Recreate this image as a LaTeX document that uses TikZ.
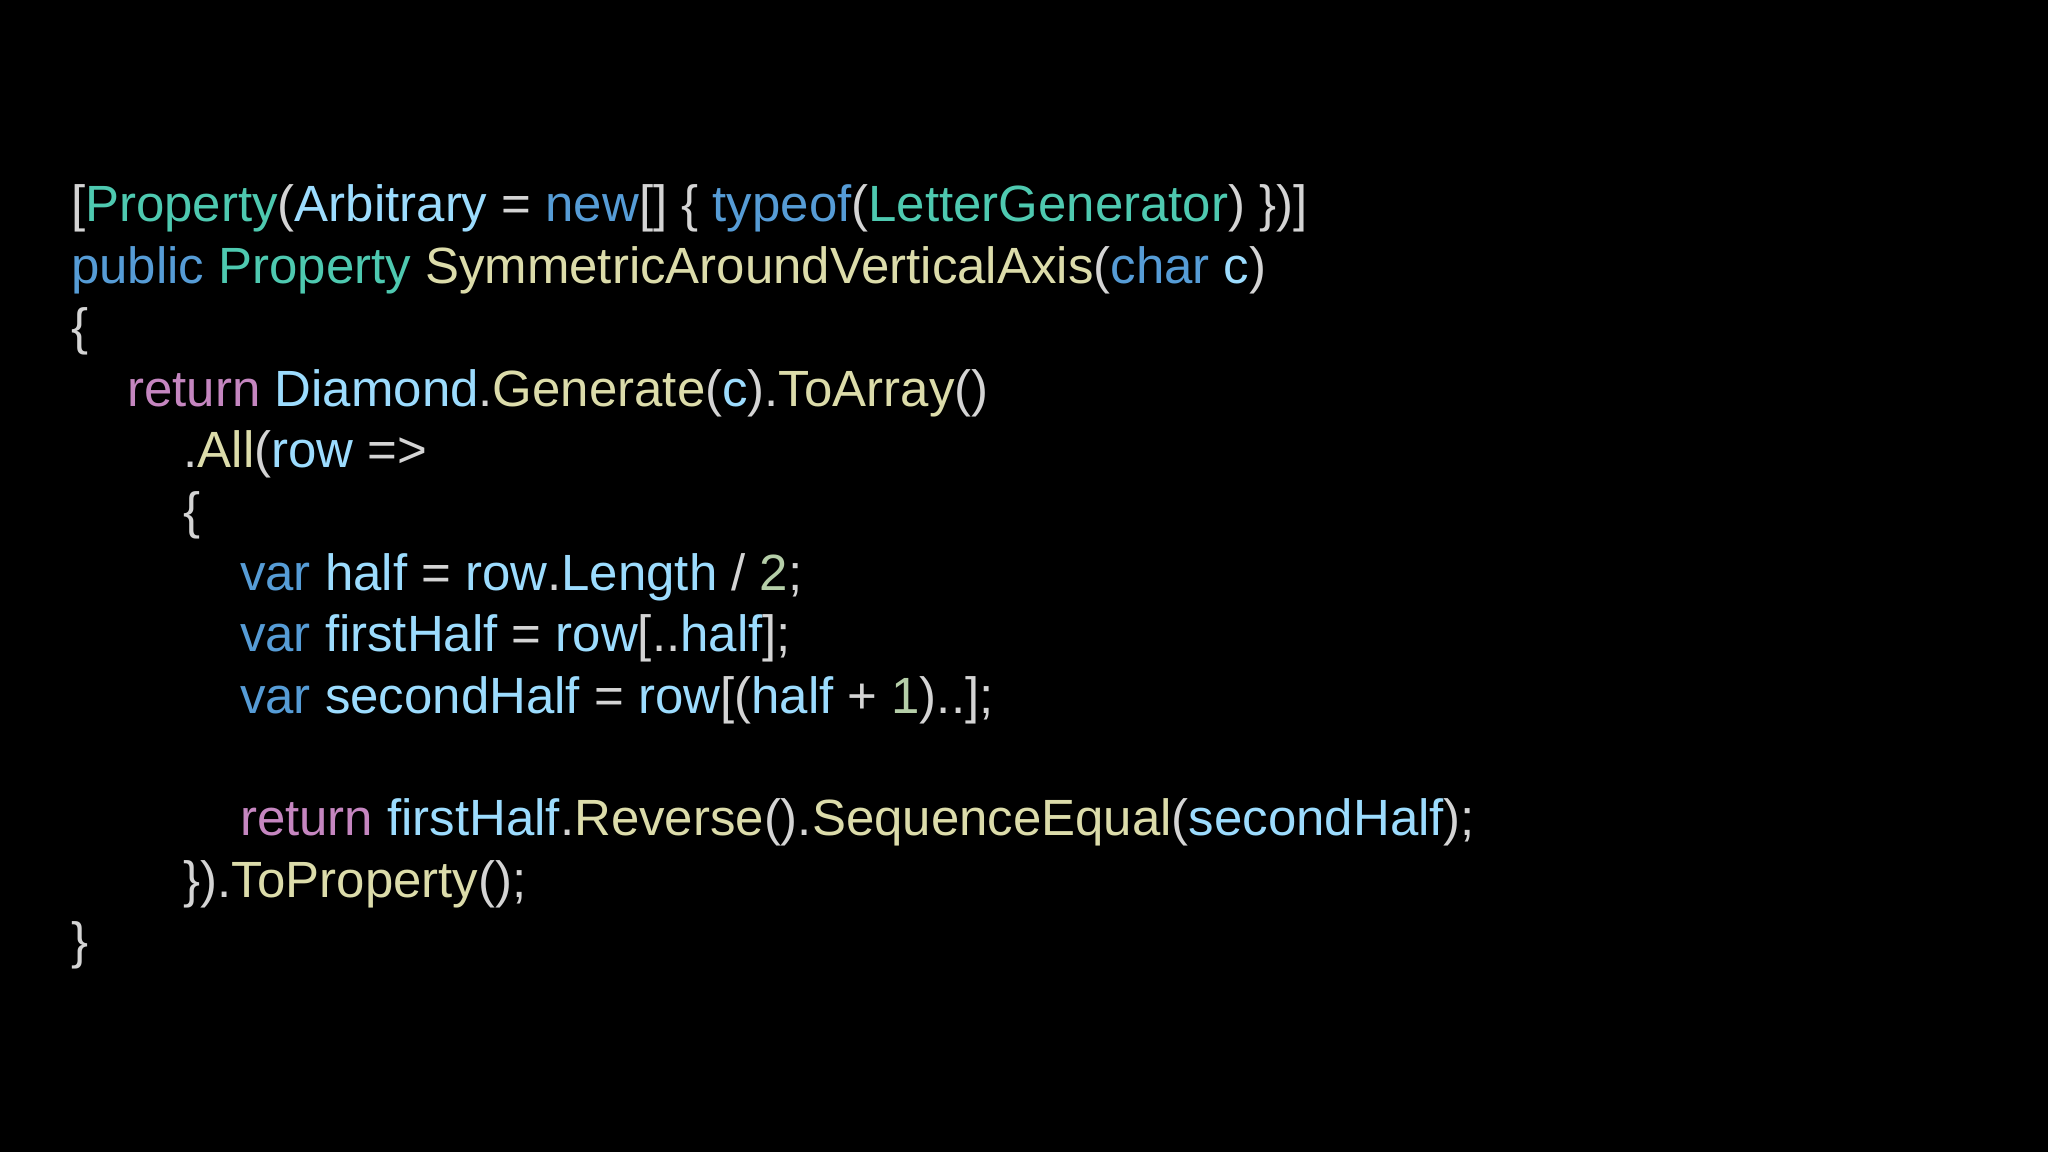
\documentclass[tikz,border=0pt]{standalone}
\usepackage{fontspec}
\setmainfont{Liberation Sans}
\definecolor{pun}{HTML}{D4D4D4}
\definecolor{typ}{HTML}{4EC9B0}
\definecolor{var}{HTML}{9CDCFE}
\definecolor{kw}{HTML}{569CD6}
\definecolor{fn}{HTML}{DCDCAA}
\definecolor{ctl}{HTML}{C586C0}
\definecolor{num}{HTML}{B5CEA8}
\newcommand{\Pu}[1]{\textcolor{pun}{#1}}
\newcommand{\Ty}[1]{\textcolor{typ}{#1}}
\newcommand{\Va}[1]{\textcolor{var}{#1}}
\newcommand{\Kw}[1]{\textcolor{kw}{#1}}
\newcommand{\Fn}[1]{\textcolor{fn}{#1}}
\newcommand{\Ct}[1]{\textcolor{ctl}{#1}}
\newcommand{\Nm}[1]{\textcolor{num}{#1}}
\begin{document}
\begin{tikzpicture}[x=1cm,y=1cm,code/.style={anchor=base west,inner sep=0pt,font=\fontsize{14.5}{17}\selectfont,text=pun}]
\fill[black] (0,0) rectangle (20.48,11.52);
\def\L{0.705}\def\I{0.563}
\node[code] (l1) at (\L,9.30) {\Pu{[}\Ty{Property}\Pu{(}\Va{Arbitrary} \Pu{=} \Kw{new}\Pu{[] \{} \Kw{typeof}\Pu{(}\Ty{LetterGenerator}\Pu{) \})]}};
\node[code] (l2) at (\L,8.686) {\Kw{public} \Ty{Property} \Fn{SymmetricAroundVerticalAxis}\Pu{(}\Kw{char} \Va{c}\Pu{)}};
\node[code] (l3) at (\L,8.072) {\Pu{\{}};
\node[code] (l4) at (\L+\I,7.458) {\Ct{return} \Va{Diamond}\Pu{.}\Fn{Generate}\Pu{(}\Va{c}\Pu{).}\Fn{ToArray}\Pu{()}};
\node[code] (l5) at (\L+2*\I,6.844) {\Pu{.}\Fn{All}\Pu{(}\Va{row} \Pu{=>}};
\node[code] (l6) at (\L+2*\I,6.230) {\Pu{\{}};
\node[code] (l7) at (\L+3*\I,5.616) {\Kw{var} \Va{half} \Pu{=} \Va{row}\Pu{.}\Va{Length} \Pu{/} \Nm{2}\Pu{;}};
\node[code] (l8) at (\L+3*\I,5.002) {\Kw{var} \Va{firstHalf} \Pu{=} \Va{row}\Pu{[..}\Va{half}\Pu{];}};
\node[code] (l9) at (\L+3*\I,4.388) {\Kw{var} \Va{secondHalf} \Pu{=} \Va{row}\Pu{[(}\Va{half} \Pu{+} \Nm{1}\Pu{)..];}};
\node[code] (l10) at (\L+3*\I,3.160) {\Ct{return} \Va{firstHalf}\Pu{.}\Fn{Reverse}\Pu{().}\Fn{SequenceEqual}\Pu{(}\Va{secondHalf}\Pu{);}};
\node[code] (l11) at (\L+2*\I,2.546) {\Pu{\}).}\Fn{ToProperty}\Pu{();}};
\node[code] (l12) at (\L,1.932) {\Pu{\}}};
\end{tikzpicture}
\end{document}
